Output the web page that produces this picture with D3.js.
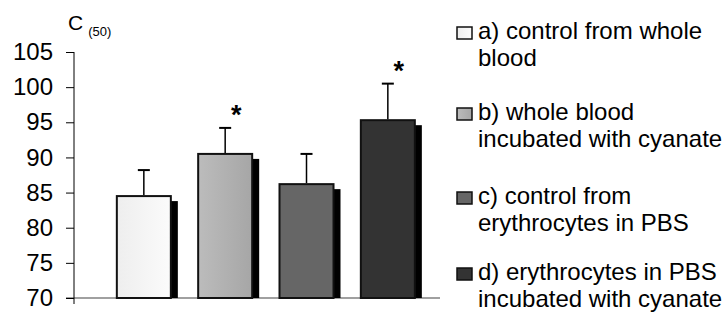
<!DOCTYPE html>
<html lang="en">
<head>
<meta charset="utf-8">
<title>C(50) bar chart</title>
<script src="https://d3js.org/d3.v7.min.js"></script>
<style>
  body { margin: 0; background: #fff; }
  text { font-family: "Liberation Sans", Arial, sans-serif; fill: #000; }
</style>
</head>
<body>
<div id="main"></div>
<script>
// data
var groups = ["a", "b", "c", "d"];
var means = [84.5, 90.5, 86.2, 95.3];
var errors = [3.7, 3.7, 4.3, 5.2];
var significant = [false, true, false, true];
var yTicks = [70, 75, 80, 85, 90, 95, 100, 105];
var legendLines = [
  ["a) control from whole", "blood"],
  ["b) whole blood", "incubated with cyanate"],
  ["c) control from", "erythrocytes in PBS"],
  ["d) erythrocytes in PBS", "incubated with cyanate"]
];
var fillsLeft = ["#eeeeee", "#bcbcbc", "#666666", "#333333"];
var fillsRight = ["#fbfbfb", "#a6a6a6", "#666666", "#333333"];

var width = 728, height = 320;

var svg = d3.select("#main")
    .append("svg")
    .attr("width", width)
    .attr("height", height);

var defs = svg.append("defs");
groups.forEach(function(g, i) {
  var grad = defs.append("linearGradient")
      .attr("id", "grad" + i)
      .attr("x1", "0%").attr("x2", "100%")
      .attr("y1", "0%").attr("y2", "0%");
  grad.append("stop").attr("offset", "0%").attr("stop-color", fillsLeft[i]);
  grad.append("stop").attr("offset", "100%").attr("stop-color", fillsRight[i]);
});

var y = d3.scaleLinear()
    .domain([70, 105])
    .range([298, 52]);

var x = d3.scaleBand()
    .domain(groups)
    .range([74, 440])
    .paddingInner(0.336)
    .paddingOuter(0.418)
    .align(0.63);

// x axis line (grey)
svg.append("line")
    .attr("x1", 66).attr("x2", 440)
    .attr("y1", y(70)).attr("y2", y(70))
    .attr("stroke", "#808080")
    .attr("stroke-width", 1.5);

// y axis
var yAxis = svg.append("g")
    .attr("transform", "translate(74,0)")
    .call(d3.axisLeft(y).tickValues(yTicks).tickSize(8).tickSizeOuter(0).tickPadding(13));
yAxis.select(".domain").remove();
yAxis.selectAll(".tick line").attr("stroke", "#000");
yAxis.selectAll(".tick text")
    .style("font-family", "'Liberation Sans', Arial, sans-serif")
    .style("font-size", "24px")
    .attr("fill", "#000");
svg.append("line")
    .attr("x1", 74).attr("x2", 74)
    .attr("y1", y(105)).attr("y2", y(70) + 6)
    .attr("stroke", "#000")
    .attr("stroke-width", 1);

// axis title
var title = svg.append("text")
    .attr("x", 68).attr("y", 30)
    .style("font-size", "21px")
    .text("C");
title.append("tspan")
    .attr("dx", 5).attr("dy", 6)
    .style("font-size", "13px")
    .text("(50)");

// shadows
svg.append("g").selectAll("rect")
    .data(groups)
    .enter().append("rect")
    .attr("x", function(d) { return x(d) + 7; })
    .attr("y", function(d, i) { return y(means[i]) + 5; })
    .attr("width", x.bandwidth())
    .attr("height", function(d, i) { return y(70) - y(means[i]) - 5; })
    .attr("fill", "#000");

// bars
svg.append("g").selectAll("rect")
    .data(groups)
    .enter().append("rect")
    .attr("x", function(d) { return x(d); })
    .attr("y", function(d, i) { return y(means[i]); })
    .attr("width", x.bandwidth())
    .attr("height", function(d, i) { return y(70) - y(means[i]); })
    .attr("fill", function(d, i) { return "url(#grad" + i + ")"; })
    .attr("stroke", "#111")
    .attr("stroke-width", 2);

// error bars
var err = svg.append("g").attr("stroke", "#000");
groups.forEach(function(g, i) {
  var cx = x(g) + x.bandwidth() / 2;
  err.append("line")
      .attr("x1", cx).attr("x2", cx)
      .attr("y1", y(means[i]) - 1).attr("y2", y(means[i] + errors[i]))
      .attr("stroke-width", 1.5);
  err.append("line")
      .attr("x1", cx - 6).attr("x2", cx + 6)
      .attr("y1", y(means[i] + errors[i])).attr("y2", y(means[i] + errors[i]))
      .attr("stroke-width", 2);
  if (significant[i]) {
    svg.append("text")
        .attr("x", cx + 11)
        .attr("y", y(means[i] + errors[i]) - 4)
        .attr("text-anchor", "middle")
        .style("font-size", "27px")
        .style("font-weight", "bold")
        .text("*");
  }
});

// legend
var baselines = [39, 120, 204, 280];
var legend = svg.append("g");
legendLines.forEach(function(lines, i) {
  legend.append("rect")
      .attr("x", 457).attr("y", baselines[i] - 12)
      .attr("width", 15).attr("height", 12)
      .attr("fill", "url(#grad" + i + ")")
      .attr("stroke", "#111")
      .attr("stroke-width", 1.5);
  lines.forEach(function(t, j) {
    legend.append("text")
        .attr("x", 478).attr("y", baselines[i] + j * 27)
        .style("font-size", "24px")
        .text(t);
  });
});
</script>
</body>
</html>
